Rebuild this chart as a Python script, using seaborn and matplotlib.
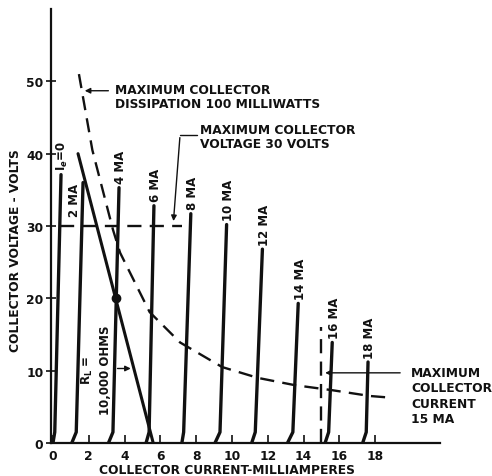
import matplotlib
matplotlib.use("Agg")
import matplotlib.pyplot as plt
import numpy as np
import pandas as pd
import seaborn as sns

# collector characteristics (mA, volts)
curve_labels = ['I$_e$=0', '2 MA', '4 MA', '6 MA', '8 MA', '10 MA',
                '12 MA', '14 MA', '16 MA', '18 MA']
foot_ma = [0.0, 1.05, 3.1, 5.2, 7.2, 9.05, 11.1, 13.1, 15.2, 17.3]
base_ma = [0.1, 1.3, 3.35, 5.37, 7.3, 9.33, 11.3, 13.4, 15.4, 17.5]
top_ma = [0.45, 1.68, 3.69, 5.64, 7.7, 9.7, 11.7, 13.7, 15.6, 17.6]
top_v = [37.1, 36.0, 35.3, 32.8, 31.7, 30.2, 26.8, 19.3, 13.9, 11.2]

# 100 mW dissipation curve
dissip_ma = [1.45, 2.2, 3.35, 3.75, 5.4, 7.1, 9.45, 11.45, 13.5, 15.6, 17.7, 18.7]
dissip_v = [51, 40.5, 29.5, 26.3, 18.1, 13.9, 10.5, 9.0, 8.0, 7.3, 6.5, 6.3]

# load line 10,000 ohms and operating point
load_ma = [1.4, 5.6]
load_v = [40, 0]
op_ma, op_v = 3.52, 20

# limits drawn as dashed lines
vmax_line = 30
vmax_ma = [0.4, 7.2]
imax_line = 15
imax_v = [0, 16]

xticks = [0, 2, 4, 6, 8, 10, 12, 14, 16, 18]
yticks = [0, 10, 20, 30, 40, 50]

sns.set_style('ticks')
plt.rcParams['font.family'] = ['DejaVu Sans']
plt.rcParams['font.weight'] = 'bold'
ink = '#111111'
fs = 8.8
dash = (0, (6, 3.5))

rows = []
for lab, f, b, t, tv in zip(curve_labels, foot_ma, base_ma, top_ma, top_v):
    rows.append((lab, f, 0.0))
    rows.append((lab, b, 1.5))
    rows.append((lab, t, tv))
df = pd.DataFrame(rows, columns=['curve', 'ma', 'volts'])

fig = plt.figure(figsize=(4.92, 4.77), dpi=100)
ax = fig.add_axes([51 / 492, 33 / 477, 389 / 492, 434 / 477])

sns.lineplot(data=df, x='ma', y='volts', units='curve', estimator=None,
             sort=False, color=ink, lw=2.4, ax=ax, legend=False)

# curve labels
for lab, t, tv in zip(curve_labels, top_ma, top_v):
    if lab == '2 MA':
        ax.text(t - 0.45, tv, lab, rotation=90, ha='center', va='top',
                fontsize=fs - 0.3, fontweight='bold', color=ink)
    else:
        ax.text(t + 0.1, tv + 0.6, lab, rotation=90, ha='center', va='bottom',
                fontsize=fs - 0.3, fontweight='bold', color=ink)

ax.plot(dissip_ma, dissip_v, color=ink, lw=1.7, linestyle=dash)
ax.plot(load_ma, load_v, color=ink, lw=2.2)
ax.plot([op_ma], [op_v], 'o', color=ink, ms=6)
ax.plot(vmax_ma, [vmax_line, vmax_line], color=ink, lw=1.7, linestyle=dash)
ax.plot([imax_line, imax_line], imax_v, color=ink, lw=1.7, linestyle=dash)

arrow = dict(arrowstyle='-|>', color=ink, lw=1.0, mutation_scale=8)

# dissipation note
ax.text(3.45, 49.8, 'MAXIMUM COLLECTOR\nDISSIPATION 100 MILLIWATTS', ha='left', va='top',
        fontsize=fs, fontweight='bold', color=ink, linespacing=1.1)
ax.annotate('', xy=(1.62, 48.7), xytext=(3.25, 48.7), arrowprops=arrow)

# voltage note
ax.text(8.2, 44.2, 'MAXIMUM COLLECTOR\nVOLTAGE 30 VOLTS', ha='left', va='top',
        fontsize=fs, fontweight='bold', color=ink, linespacing=1.1)
ax.plot([7.1, 8.05], [42.6, 42.6], color=ink, lw=1.0)
ax.annotate('', xy=(6.72, 30.3), xytext=(7.1, 42.6), arrowprops=arrow)

# current note
ax.text(20.0, 10.7, 'MAXIMUM\nCOLLECTOR\nCURRENT\n15 MA', ha='left', va='top',
        fontsize=fs, fontweight='bold', color=ink, linespacing=1.25)
ax.annotate('', xy=(15.05, 9.7), xytext=(19.55, 9.7), arrowprops=arrow)

# load line note
ax.text(2.4, 10.2, 'R$_\\mathregular{L}$ =\n10,000 OHMS', rotation=90, ha='center',
        va='center', multialignment='center', fontsize=fs - 0.3, fontweight='bold',
        color=ink, linespacing=1.45)
ax.annotate('', xy=(4.5, 10.3), xytext=(3.45, 10.3), arrowprops=arrow)

ax.set_xlim(-0.11, 21.62)
ax.set_ylim(0, 60)
ax.set_xticks(xticks)
ax.set_yticks(yticks)
ax.tick_params(axis='x', direction='in', length=6, width=1.2, pad=4,
               labelsize=fs, colors=ink)
ax.tick_params(axis='y', direction='inout', length=7, width=1.2, pad=2,
               labelsize=fs, colors=ink)
for lab in ax.get_xticklabels() + ax.get_yticklabels():
    lab.set_fontweight('bold')

sns.despine(ax=ax)
for side in ['left', 'bottom']:
    ax.spines[side].set_linewidth(1.6)
    ax.spines[side].set_color(ink)

ax.set_xlabel('COLLECTOR CURRENT-MILLIAMPERES', fontsize=fs,
              fontweight='bold', color=ink, va='center')
ax.xaxis.set_label_coords(0.452, -0.06)
ax.set_ylabel('COLLECTOR VOLTAGE - VOLTS', fontsize=fs,
              fontweight='bold', color=ink, va='center', ha='center')
ax.yaxis.set_label_coords(-0.0925, 0.445)

fig.savefig('out.png', dpi=100)
